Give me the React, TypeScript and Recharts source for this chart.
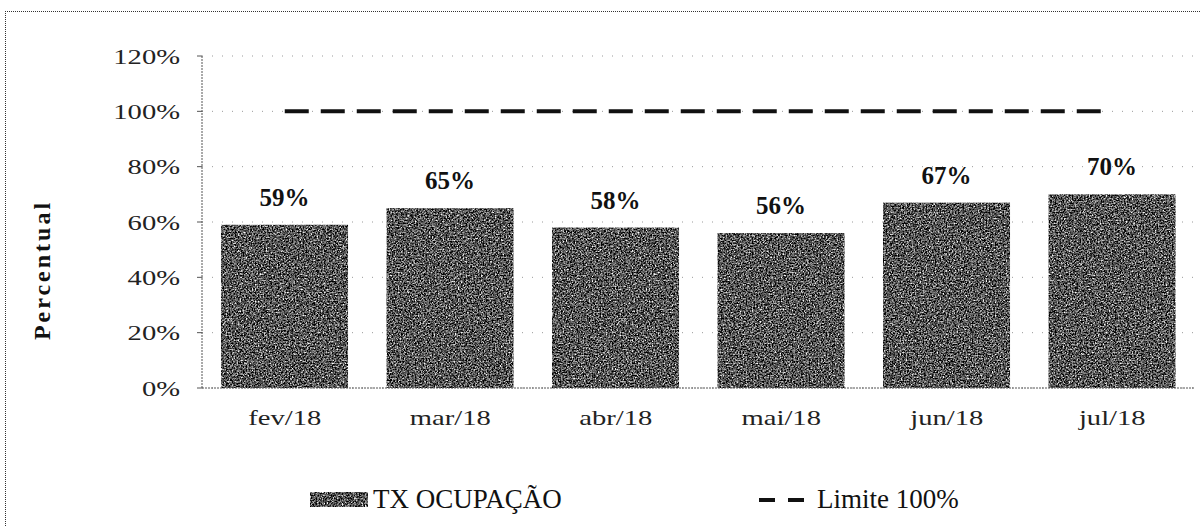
import React from 'react';
import { ComposedChart, Bar, Line, XAxis, YAxis, CartesianGrid, LabelList } from 'recharts';

const categories = ['fev/18', 'mar/18', 'abr/18', 'mai/18', 'jun/18', 'jul/18'];
const ocupacao = [59, 65, 58, 56, 67, 70];
const limite = [100, 100, 100, 100, 100, 100];
const yTicks = [0, 20, 40, 60, 80, 100, 120];
const boundaryTicks = [0, 1, 2, 3, 4, 5, 6];
const seriesNames = ['TX OCUPAÇÃO', 'Limite 100%'];
const yTitle = 'Percentual';

const data = categories.map((c, i) => ({ cat: c, ocup: ocupacao[i], limite: limite[i] }));

const FONT = '"Liberation Serif", "Times New Roman", serif';
const STRETCH = 1.3;

const GrainBar = (p: any) => (
  <rect x={p.x} y={p.y} width={p.width} height={p.height} fill="#555" filter="url(#grain)" />
);

const YTick = (p: any) => (
  <text
    transform={`translate(${p.x},${p.y}) scale(${STRETCH},1)`}
    x={0}
    y={0}
    dy="0.35em"
    textAnchor="end"
    fontFamily={FONT}
    fontSize={22}
    fill="#222"
  >
    {`${p.payload.value}%`}
  </text>
);

const XTick = (p: any) => (
  <text
    transform={`translate(${p.x},${p.y}) scale(${STRETCH},1)`}
    x={0}
    y={0}
    dy="0.71em"
    textAnchor="middle"
    fontFamily={FONT}
    fontSize={22}
    fill="#222"
  >
    {p.payload.value}
  </text>
);

export default function App() {
  return (
    <div style={{ position: 'absolute', left: 0, top: 0, width: 1200, height: 526, background: '#fff', overflow: 'hidden', fontFamily: FONT }}>
      <div style={{ position: 'absolute', left: 5, top: 11, width: 1200, height: 530, borderTop: '1px dotted #333', borderLeft: '1px dotted #333' }} />
      <ComposedChart
        width={1200}
        height={526}
        data={data}
        margin={{ top: 56, right: 5, left: 0, bottom: 98 }}
        barCategoryGap="11.5%"
      >
        <defs>
          <filter id="grain" x="0%" y="0%" width="100%" height="100%" colorInterpolationFilters="sRGB">
            <feTurbulence type="fractalNoise" baseFrequency="0.65" numOctaves={2} seed={7} result="noise" />
            <feColorMatrix in="noise" type="matrix" values="0.33 0.33 0.33 0 0 0.33 0.33 0.33 0 0 0.33 0.33 0.33 0 0 0 0 0 0 1" result="gray" />
            <feComponentTransfer in="gray" result="contrast">
              <feFuncR type="linear" slope={3.6} intercept={-1.45} />
              <feFuncG type="linear" slope={3.6} intercept={-1.45} />
              <feFuncB type="linear" slope={3.6} intercept={-1.45} />
            </feComponentTransfer>
            <feComposite in="contrast" in2="SourceGraphic" operator="in" />
          </filter>
        </defs>
        <CartesianGrid vertical={false} stroke="#999" strokeDasharray="1 9" />
        <XAxis
          xAxisId="bounds"
          type="number"
          domain={[0, categories.length]}
          ticks={boundaryTicks}
          height={0}
          tick={false}
          tickSize={6}
          axisLine={false}
          tickLine={{ stroke: '#555' }}
        />
        <XAxis
          dataKey="cat"
          height={40}
          tickLine={false}
          tickSize={0}
          tickMargin={21}
          axisLine={{ stroke: '#555', strokeDasharray: '2 1' }}
          tick={<XTick />}
        />
        <YAxis
          width={202}
          domain={[0, 120]}
          ticks={yTicks}
          tickSize={5}
          tickMargin={17}
          tickLine={{ stroke: '#555' }}
          axisLine={{ stroke: '#555', strokeDasharray: '2 1' }}
          tick={<YTick />}
          interval={0}
        />
        <Bar dataKey="ocup" name={seriesNames[0]} shape={GrainBar} isAnimationActive={false}>
          <LabelList
            dataKey="ocup"
            position="top"
            offset={19}
            formatter={(v: number) => `${v}%`}
            style={{ fontFamily: FONT, fontSize: 25, fontWeight: 'bold', fill: '#111' }}
          />
        </Bar>
        <Line
          dataKey="limite"
          name={seriesNames[1]}
          stroke="#111"
          strokeWidth={4}
          strokeDasharray="24 12"
          dot={false}
          activeDot={false}
          isAnimationActive={false}
        />
      </ComposedChart>
      <div style={{ position: 'absolute', left: 42, top: 270, transform: 'translate(-50%, -50%) rotate(-90deg)', fontFamily: FONT, fontSize: 24, fontWeight: 'bold', color: '#111', whiteSpace: 'nowrap', letterSpacing: 3 }}>
        {yTitle}
      </div>
      <div style={{ position: 'absolute', left: 310, top: 484, height: 30, display: 'flex', alignItems: 'center', fontFamily: FONT, fontSize: 27, color: '#111', whiteSpace: 'nowrap' }}>
        <svg width={58} height={15} style={{ marginRight: 5 }}>
          <rect x={0} y={0} width={58} height={15} fill="#555" filter="url(#grain)" />
        </svg>
        <span>{seriesNames[0]}</span>
      </div>
      <div style={{ position: 'absolute', left: 759, top: 484, height: 30, display: 'flex', alignItems: 'center', fontFamily: FONT, fontSize: 27, color: '#111', whiteSpace: 'nowrap' }}>
        <svg width={46} height={15} style={{ marginRight: 12 }}>
          <line x1={0} y1={8} x2={46} y2={8} stroke="#111" strokeWidth={4} strokeDasharray="16 13" />
        </svg>
        <span>{seriesNames[1]}</span>
      </div>
    </div>
  );
}
